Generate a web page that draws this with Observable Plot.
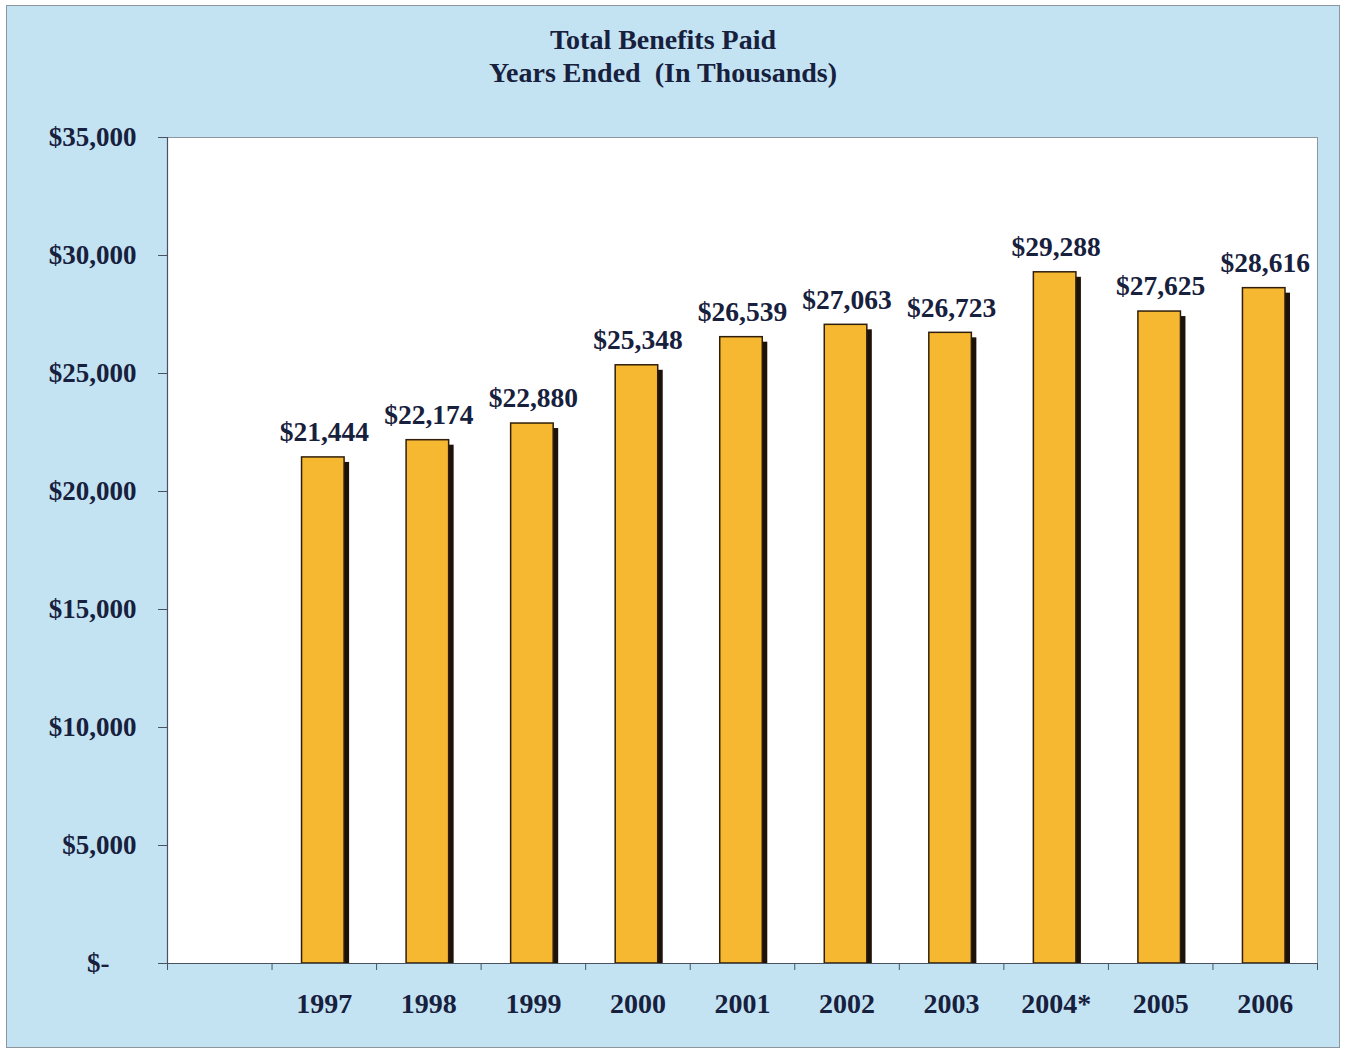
<!DOCTYPE html>
<html>
<head>
<meta charset="utf-8">
<script src="https://cdn.jsdelivr.net/npm/d3@7"></script>
<script src="https://cdn.jsdelivr.net/npm/@observablehq/plot@0.6"></script>
<style>
  html, body { margin: 0; padding: 0; background: #ffffff; }
  #page { position: relative; width: 1346px; height: 1053px; background: #c3e3f3; overflow: hidden; }
  #frame { position: absolute; left: 6px; top: 5px; width: 1332px; height: 1041px; border: 1px solid #8d969e; box-shadow: 0 0 0 12px #ffffff; pointer-events: none; }
  #title { box-sizing: border-box; height: 110px; padding-top: 23px; padding-right: 20px; text-align: center;
           font-family: "Liberation Serif", "Times New Roman", serif; font-weight: bold; font-size: 28px;
           line-height: 33px; color: #17203d; white-space: pre; }
  svg { display: block; }
</style>
</head>
<body>
<div id="page">
  <div id="title"></div>
  <div id="chart"></div>
  <div id="frame"></div>
</div>
<script>
const titleLines = ["Total Benefits Paid", "Years Ended  (In Thousands)"];
const years = ["1997", "1998", "1999", "2000", "2001", "2002", "2003", "2004*", "2005", "2006"];
const benefits = [21444, 22174, 22880, 25348, 26539, 27063, 26723, 29288, 27625, 28616];
const yTicks = [0, 5000, 10000, 15000, 20000, 25000, 30000, 35000];

document.getElementById("title").textContent = titleLines.join("\n");

// slot 0 is the empty category before 1997
const rows = years.map((year, i) => ({year, value: benefits[i], slot: i + 1}));
const slotEdges = d3.range(years.length + 2);
const money = d3.format(",");

const chart = Plot.plot({
  width: 1346,
  height: 943,
  marginLeft: 167,
  marginRight: 29,
  marginTop: 27,
  marginBottom: 90,
  style: {
    fontFamily: "'Liberation Serif', 'Times New Roman', serif",
    fontWeight: "bold",
    fontSize: "27px",
    color: "#17203d",
    background: "transparent",
    overflow: "visible"
  },
  x: {domain: [0, years.length + 1], axis: null},
  y: {domain: [0, 35000], axis: null},
  marks: [
    Plot.frame({fill: "white", stroke: "#8d969e", strokeWidth: 1}),
    Plot.axisY({
      ticks: yTicks,
      label: null,
      tickSize: 9,
      tickPadding: 22,
      stroke: "#4a5260",
      fontSize: 27,
      tickFormat: d => d === 0 ? "$-\u2007\u2007" : "$" + money(d)
    }),
    Plot.axisX({
      ticks: slotEdges,
      label: null,
      tickSize: 7,
      stroke: "#4a5260",
      tickFormat: () => ""
    }),
    // drop shadow
    Plot.rectY(rows, {
      x1: "slot", x2: d => d.slot + 1, y1: 0, y2: "value",
      insetLeft: 35, insetRight: 27, insetTop: 5,
      fill: "#1d1209"
    }),
    // bars
    Plot.rectY(rows, {
      x1: "slot", x2: d => d.slot + 1, y1: 0, y2: "value",
      insetLeft: 30, insetRight: 32,
      fill: "#f6b830", stroke: "#2f1e0c", strokeWidth: 1.5
    }),
    Plot.ruleX([0], {stroke: "#4a5260", strokeWidth: 1.2}),
    Plot.ruleY([0], {stroke: "#4a5260", strokeWidth: 1.2}),
    // value labels
    Plot.text(rows, {
      x: d => d.slot + 0.5, y: "value",
      text: d => "$" + money(d.value),
      fontSize: 27.5,
      lineAnchor: "middle", dy: -25, fill: "#17203d"
    }),
    // category labels
    Plot.text(rows, {
      x: d => d.slot + 0.5, y: () => 0,
      text: "year",
      fontSize: 28,
      lineAnchor: "middle", dy: 41, fill: "#17203d"
    })
  ]
});
document.getElementById("chart").appendChild(chart);
</script>
</body>
</html>
